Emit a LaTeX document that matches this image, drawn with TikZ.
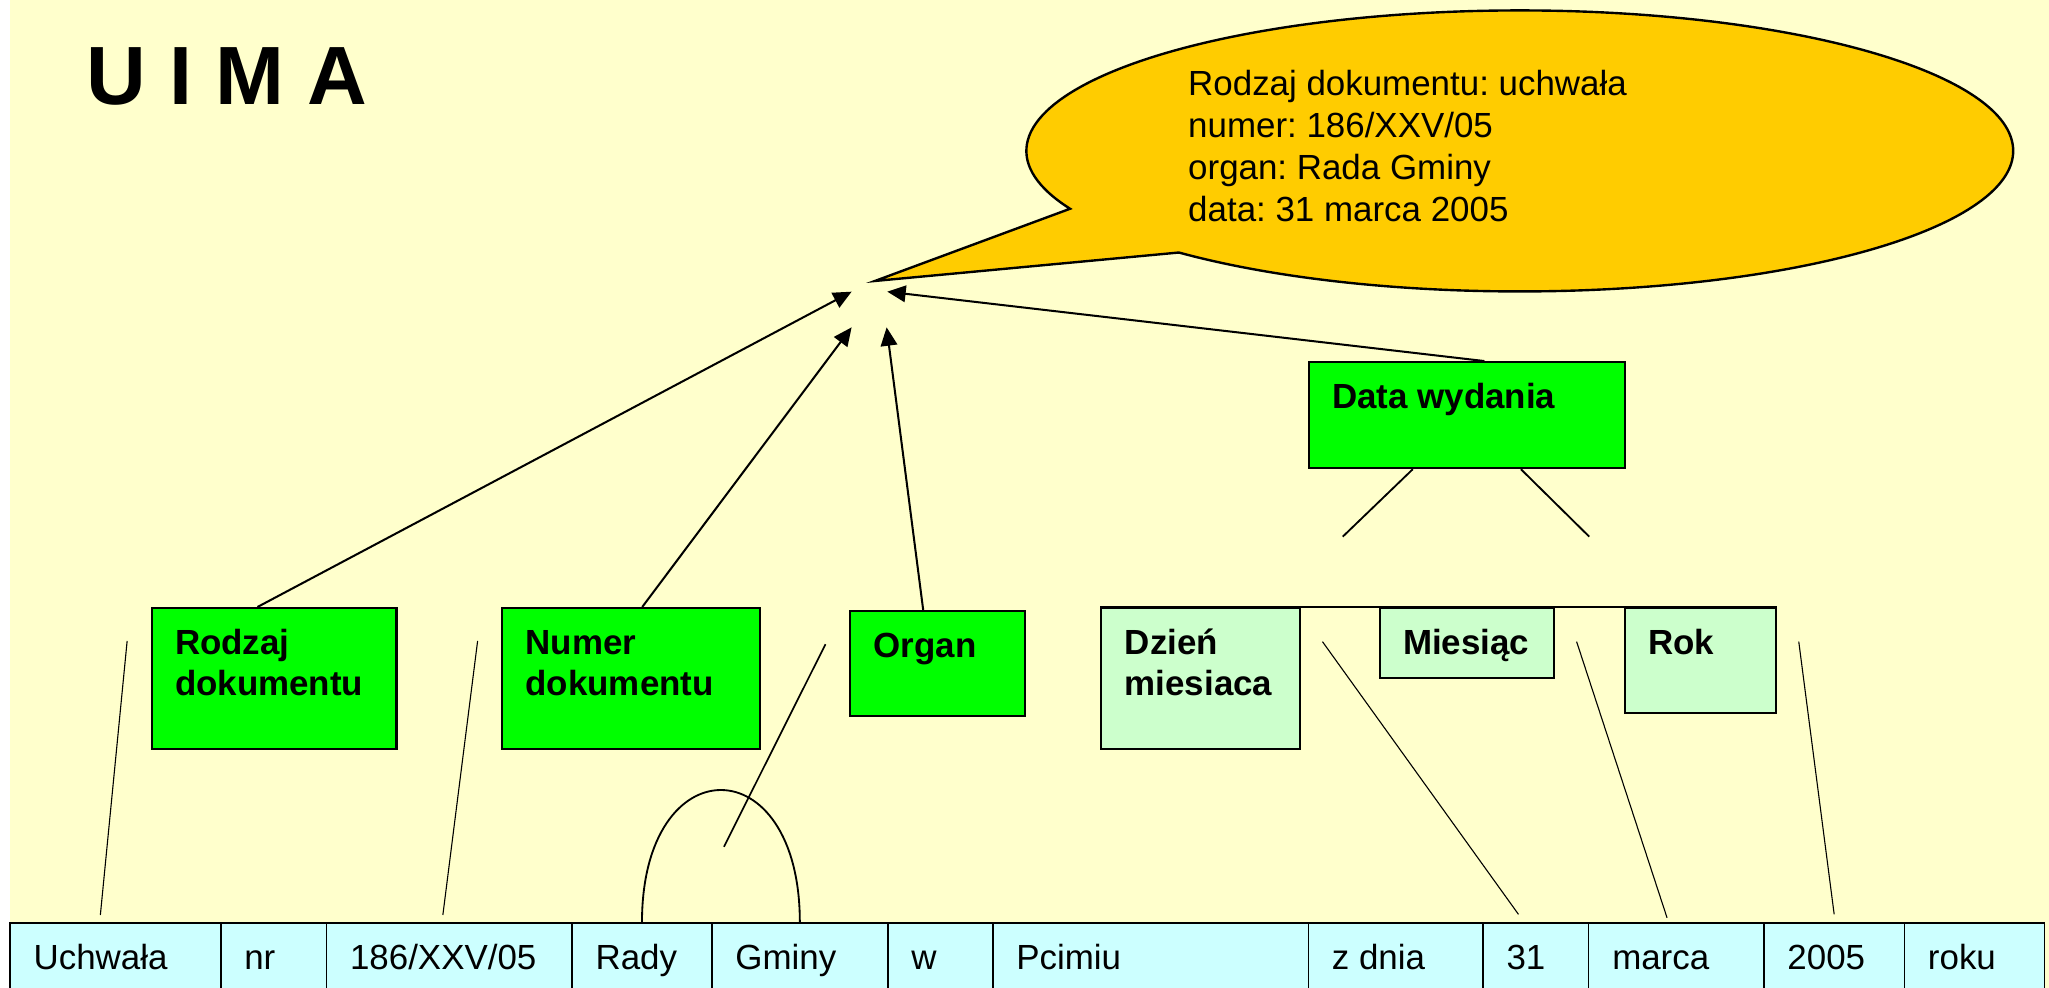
\documentclass[tikz,border=0pt]{standalone}
\usepackage{fontspec}
\setmainfont{Liberation Sans}
\usetikzlibrary{arrows.meta,shapes.callouts}
\definecolor{tlo}{HTML}{FFFFCC}
\definecolor{dymek}{HTML}{FFCC00}
\definecolor{zielony}{HTML}{00FF00}
\definecolor{jasnozielony}{HTML}{CCFFCC}
\definecolor{blekit}{HTML}{CCFFFF}
\frenchspacing
\newcommand{\wpis}[3]{\parbox[c][#2][t]{#1}{\raggedright\strut#3}}
\tikzset{
	pole/.style={draw, line width=1.1pt, anchor=north west, inner xsep=0.45cm, inner ysep=0.35cm, font=\fontsize{19}{22}\selectfont\bfseries},
	kratka/.style={draw, line width=0.8pt, fill=blekit, anchor=north west, inner xsep=0.45cm, inner ysep=0.35cm, font=\fontsize{19}{22}\selectfont},
	linia/.style={line width=0.6pt},
	strzalka/.style={->, line width=1.1pt},
}
\begin{document}
\begin{tikzpicture}[x=0.025cm, y=-0.025cm, >={Triangle[length=10pt,width=9pt]}]
		\useasboundingbox (0,0) rectangle (1568,756);
		\fill[white] (0,0) rectangle (1568,756);
		\fill[tlo] (7.3,0) rectangle (1568,756);
		\node[anchor=base west, inner sep=0pt, font=\fontsize{45}{54}\selectfont\bfseries] (uima) at (66,79.6) {U I M A};
		\coordinate (tip) at (669.6,215);
		\node[ellipse callout, draw, line width=1.3pt, fill=dymek, inner sep=0pt, minimum width=18.875cm, minimum height=5.375cm, callout absolute pointer=(tip), callout pointer arc=22] (dymek) at (1163,115.5) {};
		\node[anchor=base west, inner sep=0pt, font=\fontsize{19}{23}\selectfont] (opis) at (909,72.7) {\parbox[t]{9cm}{Rodzaj dokumentu: uchwała\\numer: 186/XXV/05\\organ: Rada Gminy\\data: 31 marca 2005}};
		\node[pole, fill=zielony] (rodzaj) at (115.2,464.5) {\wpis{3.785cm}{2cm}{Rodzaj\\dokumentu}};
		\node[pole, fill=zielony] (numer) at (383.4,464.5) {\wpis{4.03cm}{2cm}{Numer\\dokumentu}};
		\node[pole, fill=zielony] (organ) at (649.7,466.8) {\wpis{2.45cm}{1.315cm}{Organ}};
		\node[pole, fill=zielony] (data) at (1000.7,276.3) {\wpis{5.15cm}{1.33cm}{Data wydania}};
		\node[pole, fill=jasnozielony] (dzien) at (842,464.5) {\wpis{2.9cm}{2cm}{Dzień\\miesiaca}};
		\node[pole, fill=jasnozielony] (miesiac) at (1055,464.5) {\wpis{2.44cm}{0.645cm}{Miesiąc}};
		\node[pole, fill=jasnozielony] (rok) at (1242.4,464.5) {\wpis{2.005cm}{1.315cm}{Rok}};
		\draw[line width=1.1pt] (dzien.north west) -- (rok.north east);
		\node[kratka] (uchwala) at (7.2,705.8) {\wpis{3.13cm}{0.65cm}{Uchwała}};
		\node[kratka] (nr) at (168.4,705.8) {\wpis{1.12cm}{0.65cm}{nr}};
		\node[kratka] (sygn) at (249.3,705.8) {\wpis{3.8cm}{0.65cm}{186/XXV/05}};
		\node[kratka] (rady) at (437.2,705.8) {\wpis{1.775cm}{0.65cm}{Rady}};
		\node[kratka] (gminy) at (544.2,705.8) {\wpis{2.465cm}{0.65cm}{Gminy}};
		\node[kratka] (w) at (678.8,705.8) {\wpis{1.11cm}{0.65cm}{w}};
		\node[kratka] (pcimiu) at (759.2,705.8) {\wpis{5.14cm}{0.65cm}{Pcimiu}};
		\node[kratka] (zdnia) at (1000.7,705.8) {\wpis{2.44cm}{0.65cm}{z dnia}};
		\node[kratka] (dzien31) at (1134.3,705.8) {\wpis{1.12cm}{0.65cm}{31}};
		\node[kratka] (marca) at (1215.2,705.8) {\wpis{2.45cm}{0.65cm}{marca}};
		\node[kratka] (rok2005) at (1349.3,705.8) {\wpis{1.79cm}{0.65cm}{2005}};
		\node[kratka] (roku) at (1456.8,705.8) {\wpis{1.775cm}{0.65cm}{roku}};
		\coordinate (cel1) at (651.7,223.2);
		\coordinate (cel2) at (651.7,250.5);
		\coordinate (cel3) at (678.5,250.5);
		\coordinate (cel4) at (679,223.2);
		\draw[strzalka] (rodzaj.103) -- (cel1);
		\draw[strzalka] (numer.81) -- (cel2);
		\draw[strzalka] (organ.105) -- (cel3);
		\draw[strzalka] (data.72) -- (cel4);
		\coordinate (dw1) at (1027.5,410.7);
		\coordinate (dw2) at (1216.2,410.7);
		\draw[line width=1pt] (data.225) -- (dw1);
		\draw[line width=1pt] (data.315) -- (dw2);
		\draw[line width=1pt] (rady.north) .. controls +(0,-135) and +(0,-135) .. (gminy.north);
		\coordinate (uchwaladol) at (76.8,700.2);
		\coordinate (uchwalagora) at (97.3,490.5);
		\coordinate (sygndol) at (338.9,700.2);
		\coordinate (sygngora) at (365.5,490.5);
		\coordinate (radagminydol) at (554,648);
		\coordinate (radagminygora) at (631.7,493);
		\coordinate (dzien31dol) at (1162,699.7);
		\coordinate (dzien31gora) at (1012,491);
		\coordinate (marcadol) at (1275.7,702.3);
		\coordinate (marcagora) at (1206.5,491);
		\coordinate (rok2005dol) at (1403.6,699.7);
		\coordinate (rok2005gora) at (1376.5,491);
		\draw[linia] (uchwaladol) -- (uchwalagora);
		\draw[linia] (sygndol) -- (sygngora);
		\draw[line width=0.9pt] (radagminydol) -- (radagminygora);
		\draw[linia] (dzien31dol) -- (dzien31gora);
		\draw[linia] (marcadol) -- (marcagora);
		\draw[linia] (rok2005dol) -- (rok2005gora);
\end{tikzpicture}
\end{document}
